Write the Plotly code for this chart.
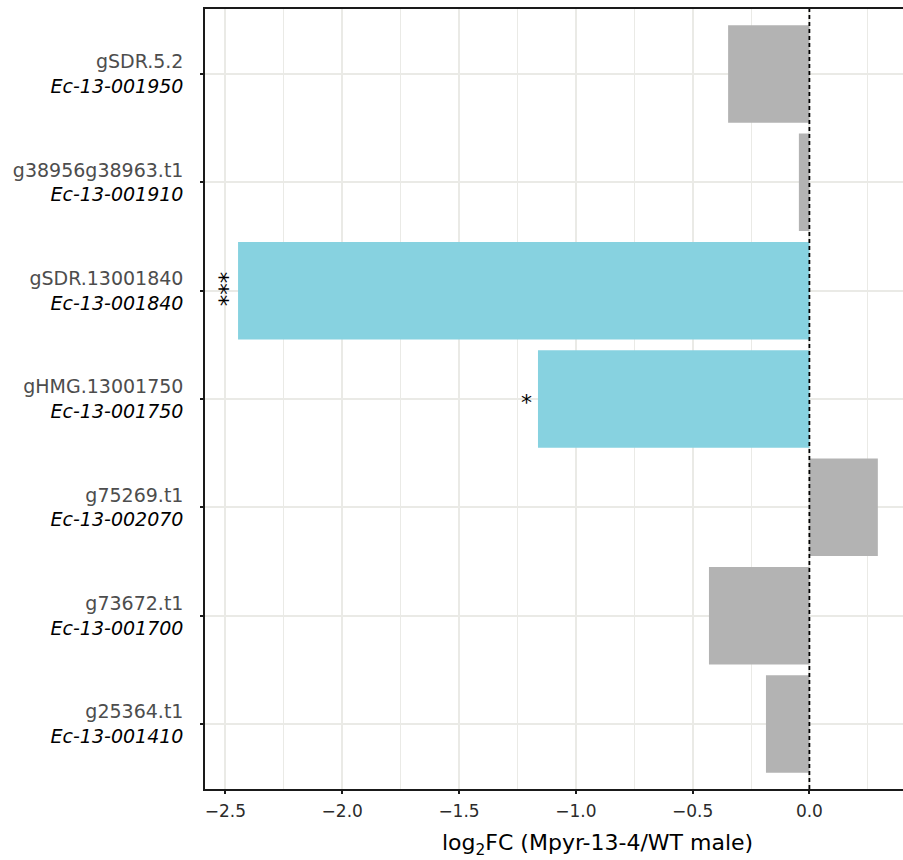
import plotly.graph_objects as go

genes = ["gSDR.5.2", "g38956g38963.t1", "gSDR.13001840", "gHMG.13001750",
         "g75269.t1", "g73672.t1", "g25364.t1"]
ids = ["Ec-13-001950", "Ec-13-001910", "Ec-13-001840", "Ec-13-001750",
       "Ec-13-002070", "Ec-13-001700", "Ec-13-001410"]
log2fc = [-0.348, -0.045, -2.446, -1.162, 0.293, -0.430, -0.186]
significance = ["", "", "***", "*", "", "", ""]
x_ticks = [-2.5, -2.0, -1.5, -1.0, -0.5, 0.0]
x_tick_labels = ["\u22122.5", "\u22122.0", "\u22121.5", "\u22121.0", "\u22120.5", "0.0"]
x_minor = [-2.25, -1.75, -1.25, -0.75, -0.25, 0.25]

SIG_COLOR = "#87D2E0"
NS_COLOR = "#B3B3B3"
GRID = "#EAEAE6"

colors = [SIG_COLOR if s else NS_COLOR for s in significance]
ylabels = [f'<span style="color:#4D4D4D">{g}</span><br><i>{i}</i>' for g, i in zip(genes, ids)]

fig = go.Figure()
fig.add_trace(go.Bar(
    x=log2fc, y=genes, orientation="h", width=0.9,
    marker=dict(color=colors, line=dict(width=0)),
    hoverinfo="skip",
))

# vertical dashed zero line
fig.add_shape(type="line", xref="x", yref="paper", x0=0, x1=0, y0=0, y1=1,
              line=dict(color="black", width=1.8, dash="4px,3px"), layer="above")

# significance stars
for g, v, s in zip(genes, log2fc, significance):
    if s:
        multi = len(s) > 1
        fig.add_annotation(x=v - 0.06, y=g, xref="x", yref="y", text=s,
                           showarrow=False, textangle=90 if multi else 0,
                           xanchor="center", yanchor="middle",
                           yshift=2 if multi else -3,
                           xshift=-4 if multi else 3,
                           font=dict(family="DejaVu Sans", size=23 if multi else 22,
                                     color="black"))

# x axis title
fig.add_annotation(x=0.563, y=-0.05, xref="paper", yref="paper",
                   text="log<sub>2</sub>FC (Mpyr-13-4/WT male)", showarrow=False,
                   xanchor="center", yanchor="top",
                   font=dict(family="DejaVu Sans", size=22, color="black"))

fig.update_layout(
    width=903, height=860,
    margin=dict(l=205, r=0, t=9, b=71),
    paper_bgcolor="white", plot_bgcolor="white",
    showlegend=False,
    xaxis=dict(
        range=[-2.5875, 0.4007],
        tickvals=x_ticks, ticktext=x_tick_labels,
        showgrid=True, gridcolor=GRID, gridwidth=2,
        minor=dict(tickvals=x_minor, showgrid=True, gridcolor=GRID, gridwidth=1, ticks=""),
        zeroline=False,
        showline=True, linecolor="#1A1A1A", linewidth=1.5, mirror=True,
        ticks="outside", ticklen=3, tickwidth=1.5, tickcolor="#1A1A1A",
        tickfont=dict(family="DejaVu Sans", size=17, color="#2B2B2B"),
        ticklabelstandoff=3,
    ),
    yaxis=dict(
        categoryorder="array", categoryarray=genes,
        range=[6.6, -0.6],
        tickvals=genes, ticktext=ylabels,
        showgrid=True, gridcolor=GRID, gridwidth=2,
        zeroline=False,
        showline=True, linecolor="#1A1A1A", linewidth=1.5,
        ticks="outside", ticklen=3, tickwidth=1.5, tickcolor="#1A1A1A",
        tickfont=dict(family="DejaVu Sans", size=19, color="black"),
        ticklabelstandoff=13,
    ),
)

fig.write_html("out.html")
